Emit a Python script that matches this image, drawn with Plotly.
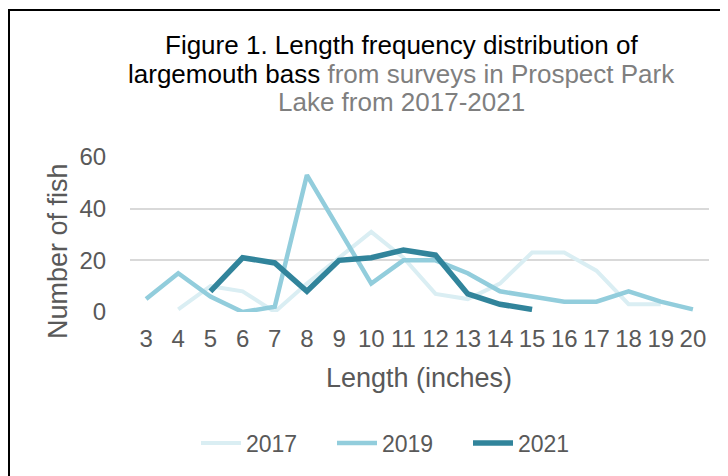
import plotly.graph_objects as go

lengths = list(range(3, 21))
y2017 = [None, 1, 10, 8, 0, 11, 21, 31, 21, 7, 5, 11, 23, 23, 16, 3, 3, None]
y2019 = [5, 15, 6, 0, 2, 53, 32, 11, 20, 20, 15, 8, 6, 4, 4, 8, 4, 1]
y2021 = [None, None, 8, 21, 19, 8, 20, 21, 24, 22, 7, 3, 1, None, None, None, None, None]
series_names = ["2017", "2019", "2021"]
y_ticks = [0, 20, 40, 60]

colors = ["#daeef3", "#92cddc", "#31849b"]
widths = [4, 4.5, 5.5]
FONT = "Liberation Sans, Arial, sans-serif"
GRAY = "#595959"

W, H = 728, 476
OFF = 8  # page body margin offset
# plot area in screen pixels: x 130..709, y 157..312
SL, SR, ST, SB = 130, 709, 157, 312
L = SL - OFF
R = W - (SR - OFF)
T = ST - OFF
B = H - (SB - OFF)
pw, ph = SR - SL, SB - ST


def px_x(x):
    return (x - SL) / pw


def px_y(y):
    return (SB - y) / ph


fig = go.Figure()
for name, ys, c, w in zip(series_names, [y2017, y2019, y2021], colors, widths):
    fig.add_trace(go.Scatter(x=lengths, y=ys, name=name, mode="lines",
                             line=dict(color=c, width=w), connectgaps=False))

ann = []
tx = px_x(401)
ann.append(dict(text="Figure 1. Length frequency distribution of", x=tx, y=px_y(45),
                font=dict(size=26, color="#000000", family=FONT)))
ann.append(dict(text="largemouth bass<span style='color:#7f7f7f'> from surveys in Prospect Park</span>",
                x=tx, y=px_y(74), font=dict(size=26, color="#000000", family=FONT)))
ann.append(dict(text="Lake from 2017-2021", x=tx, y=px_y(102),
                font=dict(size=26, color="#7f7f7f", family=FONT)))
ann.append(dict(text="Number of fish", x=px_x(58), y=px_y(251), textangle=-90,
                font=dict(size=27, color=GRAY, family=FONT)))
ann.append(dict(text="Length (inches)", x=px_x(419), y=px_y(378),
                font=dict(size=27, color=GRAY, family=FONT)))
for a in ann:
    a.update(xref="paper", yref="paper", showarrow=False, xanchor="center", yanchor="middle")

fig.update_layout(
    width=W, height=H,
    margin=dict(l=L, r=R, t=T, b=B, pad=0),
    paper_bgcolor="white", plot_bgcolor="white",
    font=dict(family=FONT, color=GRAY, size=24),
    annotations=ann,
    showlegend=True,
    legend=dict(orientation="h", x=px_x(400), y=px_y(443), xanchor="center", yanchor="middle",
                font=dict(size=23, color=GRAY, family=FONT), itemwidth=40,
                entrywidth=81, bgcolor="rgba(0,0,0,0)"),
    shapes=[dict(type="rect", xref="paper", yref="paper",
                 x0=px_x(9), x1=px_x(745), y0=px_y(495), y1=px_y(10),
                 line=dict(color="#000000", width=2), fillcolor="rgba(0,0,0,0)", layer="below")],
)
fig.update_xaxes(range=[2.5, 20.5], tickmode="array", tickvals=lengths,
                 ticktext=[str(v) for v in lengths], showgrid=False, zeroline=False,
                 showline=False, ticks="outside", ticklen=5, tickcolor="rgba(0,0,0,0)",
                 tickfont=dict(size=24, color=GRAY, family=FONT), fixedrange=True)
fig.update_yaxes(range=[0, 60], tickmode="array", tickvals=y_ticks,
                 showgrid=True, gridcolor="#d9d9d9", gridwidth=2, zeroline=False,
                 showline=False, ticks="outside", ticklen=18, tickcolor="rgba(0,0,0,0)",
                 tickfont=dict(size=24, color=GRAY, family=FONT), fixedrange=True)

fig.write_html("out.html")
